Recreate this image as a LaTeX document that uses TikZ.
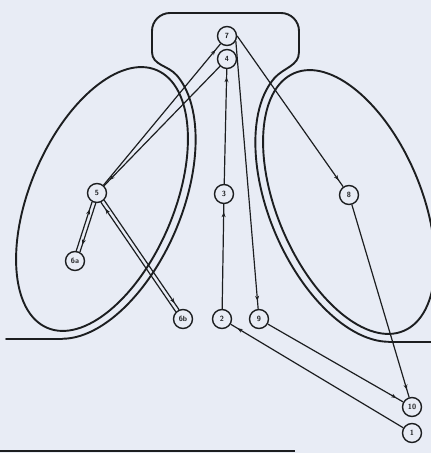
\documentclass[tikz,border=0pt]{standalone}
\usetikzlibrary{arrows.meta,decorations.markings,calc}
\definecolor{paper}{RGB}{232,236,245}
\definecolor{ink}{RGB}{28,30,32}
\begin{document}
\begin{tikzpicture}[x=1pt,y=1pt,
  nd/.style={circle,draw=ink,line width=1.4pt,minimum size=19pt,inner sep=0pt,
    font=\sffamily\bfseries\fontsize{7.5}{8}\selectfont,text=ink,fill=paper},
  outl/.style={draw=ink,line width=1.9pt,line cap=round,line join=round},
  conn/.style={draw=ink,line width=1.2pt},
  arr/.style={conn,postaction={decorate},decoration={markings,
    mark=at position -8pt with {\arrow[ink]{Stealth[length=5pt,width=4pt]}}}}]
\useasboundingbox (0,0) rectangle (431,-453);
\fill[paper] (0,0) rectangle (431,-453);
% left lobe
\begin{scope}[shift={(102,-199)},rotate=67]
  \draw[outl] (0,0) ellipse[x radius=140pt,y radius=72pt];
  \draw[outl] (-167:148pt and 80pt) coordinate (LA)
     arc[start angle=-167,end angle=-15,x radius=148pt,y radius=80pt] coordinate (LB);
\end{scope}
% right lobe
\begin{scope}[shift={(349,-202)},rotate=-67]
  \draw[outl] (0,0) ellipse[x radius=140pt,y radius=72pt];
  \draw[outl] (195:148pt and 80pt) coordinate (RB)
     arc[start angle=195,end angle=347,x radius=148pt,y radius=80pt] coordinate (RA);
\end{scope}
\coordinate (lend) at (6,0);
\coordinate (rend) at (431,0);
\draw[outl] (LA -| lend) -- (LA);
\draw[outl] (RA) -- (RA -| rend);
\draw[outl] (LB) to[out=130,in=-90] (152,-52) -- (152,-31)
   arc[start angle=180,end angle=90,radius=18pt] -- (281,-13)
   arc[start angle=90,end angle=0,radius=18pt] -- (299,-52)
   to[out=-90,in=50] (RB);
% bottom rule
\draw[ink,line width=1.6pt] (0,-451) -- (295,-451);
% nodes
\node[nd] (n7) at (227,-36) {7};
\node[nd] (n4) at (227,-59) {4};
\node[nd] (n5) at (97,-193) {5};
\node[nd] (n6a) at (75,-261) {6a};
\node[nd] (n6b) at (183,-319) {6b};
\node[nd] (n3) at (224,-194) {3};
\node[nd] (n2) at (222,-319) {2};
\node[nd] (n9) at (259,-319) {9};
\node[nd] (n8) at (349,-195) {8};
\node[nd] (n10) at (412,-407) {10};
\node[nd] (n1) at (412,-433) {1};
% connectors
\draw[arr] (n1) -- (n2);
\draw[arr] (n2) -- (n3);
\draw[arr] (n3) -- (n4);
\draw[arr] (n4) -- (n5);
\draw[arr] (n5) -- (n7);
\draw[arr] (n7.-30) -- (n9);
\draw[arr] (n7.0) -- (n8);
\draw[arr] (n8) -- (n10);
\draw[arr] (n9) -- (n10);
\draw[arr] (n5.-97) -- (n6a.61);
\draw[arr] (n6a.83) -- (n5.-119);
\draw[arr] (n5.-45) -- (n6b.113);
\draw[arr] (n6b.135) -- (n5.-67);
\end{tikzpicture}
\end{document}
